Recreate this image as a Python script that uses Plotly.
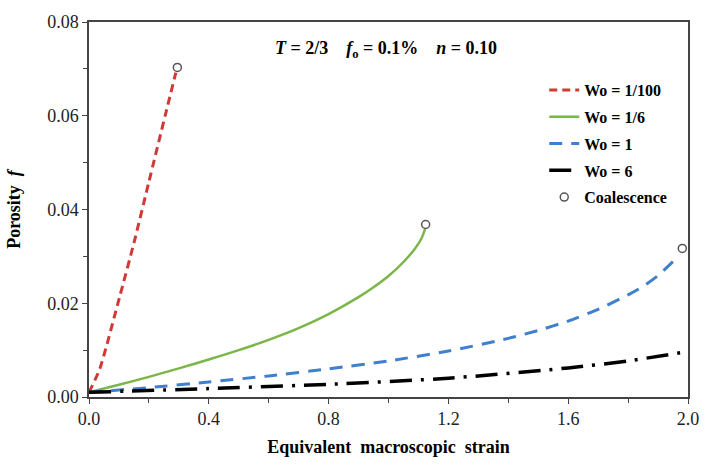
import plotly.graph_objects as go

# ---- data ----
red_x = [0.0, 0.036, 0.102, 0.151, 0.200, 0.255, 0.290]
red_y = [0.0010, 0.0060, 0.0213, 0.0331, 0.0459, 0.0602, 0.0692]

green_x = [0.0, 0.1, 0.2, 0.3, 0.4, 0.5, 0.6, 0.7, 0.8, 0.9, 0.95, 1.0, 1.05, 1.09, 1.11, 1.122]
green_y = [0.0010, 0.0026, 0.0043, 0.0061, 0.0080, 0.0100, 0.0122, 0.0147, 0.0177, 0.0213,
           0.0234, 0.0258, 0.0288, 0.0318, 0.0338, 0.0358]

blue_x = [0.0, 0.2, 0.4, 0.6, 0.8, 1.0, 1.2, 1.4, 1.5, 1.6, 1.7, 1.8, 1.85, 1.9, 1.95]
blue_y = [0.0010, 0.0020, 0.0032, 0.0045, 0.0060, 0.0077, 0.0098, 0.0125, 0.0142, 0.0162,
          0.0187, 0.0218, 0.0236, 0.0259, 0.0289]

black_x = [0.0, 0.4, 0.8, 1.2, 1.6, 1.8, 2.0]
black_y = [0.0010, 0.0018, 0.0027, 0.0040, 0.0062, 0.0077, 0.0097]

coal_x = [0.295, 1.124, 1.981]
coal_y = [0.0703, 0.0368, 0.0317]

series_names = ["Wo = 1/100", "Wo = 1/6", "Wo = 1", "Wo = 6"]
coal_name = "Coalescence"

x_ticks = [0.0, 0.4, 0.8, 1.2, 1.6, 2.0]
y_ticks = [0.00, 0.02, 0.04, 0.06, 0.08]

SERIF = "Liberation Serif"

fig = go.Figure()
fig.add_trace(go.Scatter(x=red_x, y=red_y, mode="lines", name=series_names[0], legendgroup="a",
                         line=dict(color="#d03a36", width=3, dash="8px,5px", shape="spline", smoothing=0.6)))
fig.add_trace(go.Scatter(x=green_x, y=green_y, mode="lines", name=series_names[1], legendgroup="b",
                         line=dict(color="#7ab648", width=2.5, shape="spline", smoothing=0.6)))
fig.add_trace(go.Scatter(x=blue_x, y=blue_y, mode="lines", name=series_names[2], legendgroup="c",
                         line=dict(color="#3f7fcf", width=3, dash="13px,9px", shape="spline", smoothing=0.6)))
fig.add_trace(go.Scatter(x=black_x, y=black_y, mode="lines", name=series_names[3], legendgroup="d",
                         line=dict(color="black", width=3.5, dash="22px,9px,3px,9px", shape="spline", smoothing=0.6)))
fig.add_trace(go.Scatter(x=coal_x, y=coal_y, mode="markers", name=coal_name, legendgroup="e",
                         marker=dict(symbol="circle-open", size=8, color="#555555",
                                     line=dict(width=1.5, color="#555555"))))

axis_common = dict(showline=True, linecolor="#444444", linewidth=1.5, mirror=True,
                   ticks="outside", ticklen=5, tickcolor="#444444", tickwidth=1,
                   showgrid=False, zeroline=False,
                   tickfont=dict(family=SERIF, size=18, color="#222222"))

fig.update_xaxes(range=[0, 2.0], tickvals=x_ticks, ticktext=[f"{v:.1f}" for v in x_ticks],
                 minor=dict(dtick=0.2, ticks="outside", ticklen=4, tickcolor="#444444"),
                 title=dict(text="Equivalent  macroscopic  strain",
                            font=dict(family=SERIF, size=18, color="black", weight="bold"),
                            standoff=12),
                 **axis_common)
fig.update_yaxes(range=[0, 0.08], tickvals=y_ticks, ticktext=[f"{v:.2f}" for v in y_ticks],
                 minor=dict(dtick=0.01, ticks="outside", ticklen=4, tickcolor="#444444"),
                 title=dict(text="Porosity&nbsp;&nbsp;<i>f</i>",
                            font=dict(family=SERIF, size=18, color="black", weight="bold"),
                            standoff=22),
                 **axis_common)

fig.add_annotation(x=0.495, y=0.0742, xref="paper", yref="y", showarrow=False,
                   xanchor="center", yanchor="middle",
                   text="<b><i>T</i> = 2/3&nbsp;&nbsp;&nbsp;&nbsp;<i>f</i><sub>o</sub> = 0.1%&nbsp;&nbsp;&nbsp;&nbsp;<i>n</i> = 0.10</b>",
                   font=dict(family=SERIF, size=18, color="black"))

fig.update_layout(
    width=711, height=466,
    margin=dict(l=89, r=12, t=15, b=67),
    paper_bgcolor="white", plot_bgcolor="white",
    showlegend=True,
    legend=dict(x=0.76, y=0.864, xanchor="left", yanchor="top",
                bgcolor="rgba(0,0,0,0)", borderwidth=0,
                font=dict(family=SERIF, size=16, color="black", weight="bold"),
                tracegroupgap=3, itemwidth=30),
)

fig.write_html("out.html")
